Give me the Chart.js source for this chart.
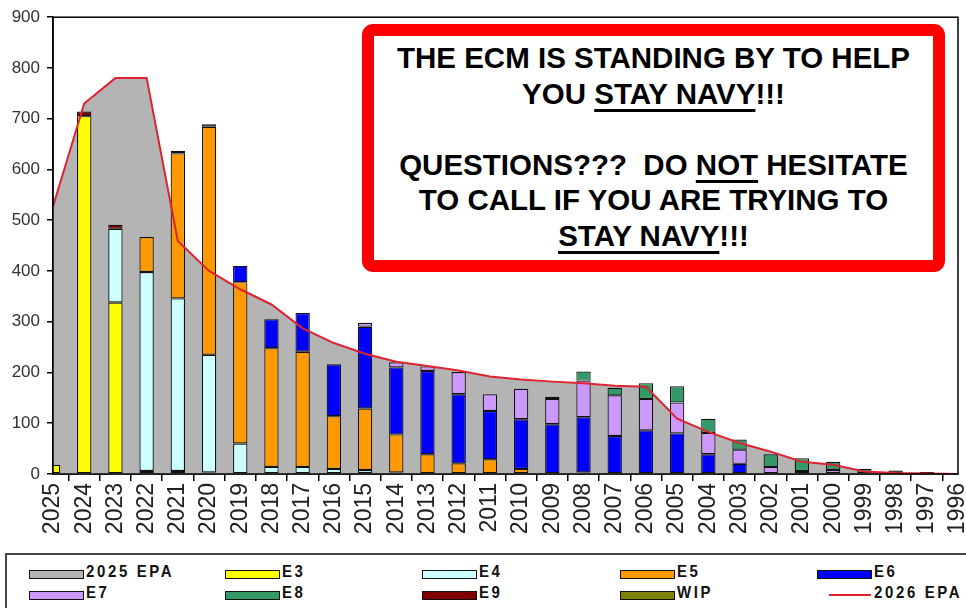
<!DOCTYPE html>
<html>
<head>
<meta charset="utf-8">
<script src="https://cdn.jsdelivr.net/npm/chart.js@4.4.1/dist/chart.umd.min.js"></script>
<style>
  body { margin: 0; background: #fff; width: 966px; height: 608px; overflow: hidden; position: relative; font-family: "Liberation Sans", Arial, sans-serif; }
  #wrap { position: absolute; left: 0; top: 0; width: 966px; height: 550px; }
  #note {
    position: absolute; left: 362px; top: 24px; width: 583px; height: 248px; box-sizing: border-box;
    border: 12.5px solid #ff0000; border-radius: 11px; background: #fff;
    padding-top: 4px; text-align: center; color: #000;
    font: bold 29.5px "Liberation Sans", Arial, sans-serif; line-height: 35.5px;
  }
  #note u { text-decoration-thickness: 3px; text-underline-offset: 5px; }
  #legend { position: absolute; left: 5px; top: 553px; width: 980px; height: 80px; border: 2px solid #444; box-sizing: border-box; }
  .sw { position: absolute; width: 53px; height: 7px; border: 1px solid #111; box-sizing: content-box; }
  .lt { position: absolute; font: bold 17px "Liberation Sans", Arial, sans-serif; line-height: 17px; letter-spacing: 3px; color: #111; white-space: nowrap; transform: scaleX(0.88); transform-origin: left top; }
</style>
</head>
<body>
<div id="wrap"><canvas id="epaChart"></canvas></div>
<div id="note">
  <div>THE ECM IS STANDING BY TO HELP</div>
  <div>YOU <u>STAY NAVY</u>!!!</div>
  <div>&nbsp;</div>
  <div>QUESTIONS???&nbsp; DO <u>NOT</u> HESITATE</div>
  <div>TO CALL IF YOU ARE TRYING TO</div>
  <div><u>STAY NAVY</u>!!!</div>
</div>
<div id="legend"></div>
<script>
const years = ['2025', '2024', '2023', '2022', '2021', '2020', '2019', '2018', '2017', '2016',
  '2015', '2014', '2013', '2012', '2011', '2010', '2009', '2008', '2007', '2006',
  '2005', '2004', '2003', '2002', '2001', '2000', '1999', '1998', '1997', '1996'];

const epa2025 = [527, 730, 780, 780, 459, 400, 364, 334, 287, 258, 237, 221, 213, 204, 192, 186, 182, 179, 174, 172, 109, 83, 61, 44, 24, 18, 5, 2, 1, 0];
const epa2026 = [527, 730, 780, 780, 459, 400, 364, 334, 287, 258, 237, 221, 213, 204, 192, 186, 182, 179, 174, 172, 109, 83, 61, 44, 24, 18, 5, 2, 1, 0];

const e3 = [18, 705, 338, 6, 6, 3, 0, 0, 0, 0, 0, 0, 0, 0, 0, 0, 0, 0, 0, 0, 0, 0, 0, 0, 0, 0, 0, 0, 0, 0];
const e4 = [0, 0, 145, 392, 340, 232, 60, 14, 14, 10, 8, 3, 0, 0, 0, 0, 0, 0, 0, 0, 0, 0, 0, 0, 0, 0, 0, 0, 0, 0];
const e5 = [0, 0, 0, 69, 286, 449, 318, 234, 227, 104, 121, 75, 39, 21, 29, 10, 0, 3, 0, 0, 0, 0, 0, 0, 0, 0, 0, 0, 0, 0];
const e6 = [0, 0, 0, 0, 0, 0, 32, 57, 76, 102, 161, 132, 164, 136, 95, 98, 98, 109, 75, 86, 80, 39, 20, 0, 0, 0, 0, 0, 0, 0];
const e7 = [0, 0, 0, 0, 0, 0, 0, 0, 0, 0, 8, 10, 9, 44, 33, 60, 50, 72, 80, 62, 61, 42, 28, 14, 6, 8, 0, 0, 0, 0];
const e8 = [0, 0, 0, 0, 0, 0, 0, 0, 0, 0, 0, 0, 0, 0, 0, 0, 0, 18, 15, 31, 32, 28, 20, 25, 25, 16, 10, 0, 0, 0];
const e9 = [0, 9, 8, 0, 5, 5, 0, 0, 0, 0, 0, 0, 0, 0, 0, 0, 4, 0, 0, 0, 0, 0, 0, 0, 0, 0, 0, 7, 4, 0];
const wip = [0, 0, 0, 0, 0, 0, 0, 0, 0, 0, 0, 0, 0, 0, 0, 0, 0, 0, 0, 0, 0, 0, 0, 0, 0, 0, 0, 0, 0, 0];

const yTicks = [0, 100, 200, 300, 400, 500, 600, 700, 800, 900];

const grayFill = '#b4b4b4';
const redLine = '#dd2430';
const gradeColors = { E3: '#ffff00', E4: '#ccffff', E5: '#ff9900', E6: '#0000ff', E7: '#cc99ff', E8: '#339966', E9: '#800000', WIP: '#808000' };

Chart.defaults.font.family = '"Liberation Sans", Arial, sans-serif';

const barSet = (label, data) => ({
    type: 'bar',
    label: label,
    data: data,
    backgroundColor: gradeColors[label],
    borderColor: '#111',
    borderWidth: 1.2,
    borderSkipped: false,
    stack: 'grades',
    order: 1,
    clip: 0
});

// frame round the plot area (top + right edges too)
const plotBox = {
    id: 'plotBox',
    afterDraw(chart) {
        const { ctx, chartArea: a } = chart;
        ctx.save();
        ctx.strokeStyle = '#000';
        ctx.lineWidth = 1.5;
        ctx.strokeRect(a.left, a.top, a.right - a.left, a.bottom - a.top);
        ctx.restore();
    }
};

new Chart(document.getElementById('epaChart'), {
    type: 'bar',
    data: {
        labels: years,
        datasets: [
            {
                type: 'line',
                label: '2026 EPA',
                data: epa2026,
                borderColor: redLine,
                borderWidth: 2,
                pointRadius: 0,
                fill: false,
                tension: 0,
                stack: 'line26',
                order: 0
            },
            barSet('E3', e3),
            barSet('E4', e4),
            barSet('E5', e5),
            barSet('E6', e6),
            barSet('E7', e7),
            barSet('E8', e8),
            barSet('E9', e9),
            barSet('WIP', wip),
            {
                type: 'line',
                label: '2025 EPA',
                data: epa2025,
                borderWidth: 0,
                borderColor: grayFill,
                backgroundColor: grayFill,
                pointRadius: 0,
                fill: 'origin',
                tension: 0,
                stack: 'area25',
                order: 2
            }
        ]
    },
    options: {
        responsive: true,
        maintainAspectRatio: false,
        animation: false,
        layout: { padding: { top: 15, right: 8, left: 0, bottom: 0 } },
        datasets: { bar: { barPercentage: 0.46, categoryPercentage: 1 } },
        plugins: { legend: { display: false }, tooltip: { enabled: false } },
        scales: {
            x: {
                type: 'category',
                offset: false,
                stacked: true,
                grid: { drawOnChartArea: false, tickLength: 7, color: '#000', lineWidth: 1.5 },
                border: { display: true, color: '#000', width: 1.5 },
                ticks: { autoSkip: false, minRotation: 90, maxRotation: 90, padding: 2, color: '#222', font: { size: 23 } },
                afterFit: (s) => { s.height = 76; s.paddingLeft = 0; s.paddingRight = 0; }
            },
            y: {
                min: 0,
                max: 900,
                stacked: true,
                afterBuildTicks: (s) => { s.ticks = yTicks.map(v => ({ value: v })); },
                grid: { drawOnChartArea: false, tickLength: 6, color: '#000', lineWidth: 1.5 },
                border: { display: true, color: '#000', width: 1.5 },
                ticks: { padding: 7, color: '#333', font: { size: 17 } },
                afterFit: (s) => { s.width = 53; }
            }
        }
    },
    plugins: [plotBox]
});

// legend, laid out in a 5 x 2 grid like the original
const legendItems = [
    { label: '2025 EPA', color: grayFill }, { label: 'E3', color: gradeColors.E3 }, { label: 'E4', color: gradeColors.E4 },
    { label: 'E5', color: gradeColors.E5 }, { label: 'E6', color: gradeColors.E6 },
    { label: 'E7', color: gradeColors.E7 }, { label: 'E8', color: gradeColors.E8 }, { label: 'E9', color: gradeColors.E9 },
    { label: 'WIP', color: gradeColors.WIP }, { label: '2026 EPA', color: redLine, line: true }
];
const colX = [22, 218, 415, 613, 810];
const rowY = [15, 36];
const legend = document.getElementById('legend');
legendItems.forEach((item, i) => {
    const x = colX[i % 5];
    const y = rowY[Math.floor(i / 5)];
    const sw = document.createElement('div');
    if (item.line) {
        sw.style.cssText = `position:absolute;left:${x + 12}px;top:${y + 3}px;width:42px;height:2px;background:${item.color};`;
    } else {
        sw.className = 'sw';
        sw.style.left = x + 'px';
        sw.style.top = y + 'px';
        sw.style.background = item.color;
    }
    legend.appendChild(sw);
    const t = document.createElement('div');
    t.className = 'lt';
    t.textContent = item.label;
    t.style.left = (x + 57) + 'px';
    t.style.top = (y - 7) + 'px';
    legend.appendChild(t);
});
</script>
</body>
</html>
